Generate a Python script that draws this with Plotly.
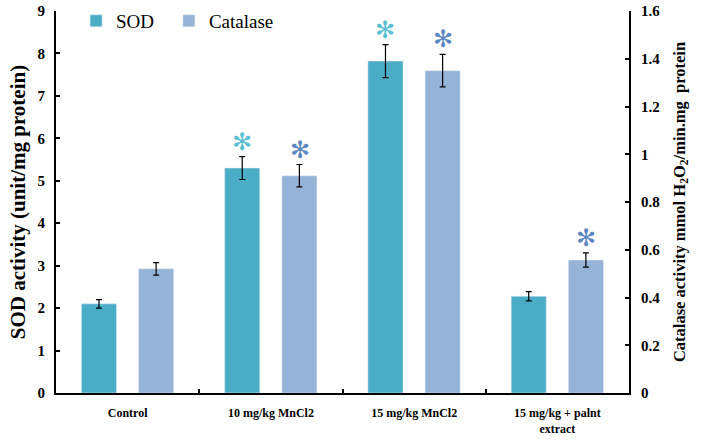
import plotly.graph_objects as go

categories = ["Control", "10 mg/kg MnCl2", "15 mg/kg MnCl2", "15 mg/kg + palnt<br>extract"]
sod_values = [2.10, 5.30, 7.82, 2.28]
sod_errors = [0.10, 0.27, 0.39, 0.11]
cat_values = [0.52, 0.91, 1.35, 0.557]
cat_errors = [0.026, 0.047, 0.068, 0.030]
sod_sig = [False, True, True, False]
cat_sig = [False, True, True, True]

SOD_COLOR = "#4BACC6"
CAT_COLOR = "#95B3D7"
FONT = "Liberation Serif, Times New Roman, serif"

fig = go.Figure()
fig.add_trace(go.Bar(
    x=categories, y=sod_values, name="SOD", marker_color=SOD_COLOR,
    width=0.245, offset=-0.3225,
    error_y=dict(type="data", array=sod_errors, color="black", thickness=1.2, width=3),
    yaxis="y", legend="legend",
))
fig.add_trace(go.Bar(
    x=categories, y=cat_values, name="Catalase", marker_color=CAT_COLOR,
    width=0.245, offset=0.0765,
    error_y=dict(type="data", array=cat_errors, color="black", thickness=1.2, width=3),
    yaxis="y2", legend="legend2",
))

annotations = []
for i, (v, e, s) in enumerate(zip(sod_values, sod_errors, sod_sig)):
    if s:
        annotations.append(dict(x=i - 0.2, y=v + e, xref="x", yref="y", text="✻",
                                showarrow=False, yanchor="middle", yshift=15,
                                font=dict(family="DejaVu Sans", size=24, color="#5BBFD3")))
for i, (v, e, s) in enumerate(zip(cat_values, cat_errors, cat_sig)):
    if s:
        annotations.append(dict(x=i + 0.2, y=v + e, xref="x", yref="y2", text="✻",
                                showarrow=False, yanchor="middle", yshift=15,
                                font=dict(family="DejaVu Sans", size=24, color="#5C87C2")))

legend_common = dict(orientation="h", y=0.974, xanchor="left", yanchor="middle",
                     font=dict(family=FONT, size=19, color="black"),
                     bgcolor="rgba(0,0,0,0)", itemwidth=30)

fig.update_layout(
    width=703, height=441,
    margin=dict(l=56, r=74, t=11, b=48, autoexpand=False),
    plot_bgcolor="white", paper_bgcolor="white",
    barmode="group",
    font=dict(family=FONT, color="black"),
    showlegend=True,
    legend=dict(x=0.035, **legend_common),
    legend2=dict(x=0.197, **legend_common),
    xaxis=dict(
        type="category", range=[-0.5, 3.5], automargin=False,
        showline=True, linecolor="black", linewidth=2,
        ticks="inside", tickson="boundaries", ticklen=4, tickcolor="black", tickwidth=2,
        tickfont=dict(family=FONT, size=12, color="black", weight="bold"),
        ticklabelstandoff=8,
        showgrid=False, zeroline=False,
    ),
    yaxis=dict(
        range=[0, 9], dtick=1, automargin=False,
        showline=True, linecolor="black", linewidth=2,
        ticks="inside", ticklen=4, tickcolor="black", tickwidth=2,
        tickfont=dict(family=FONT, size=15, color="black", weight="bold"),
        ticklabelstandoff=6, ticklabeloverflow="allow",
        title=dict(text="SOD activity (unit/mg protein)", standoff=6,
                   font=dict(family=FONT, size=21, color="black", weight="bold")),
        showgrid=False, zeroline=False,
    ),
    yaxis2=dict(
        range=[0, 1.6], tickvals=[0, 0.2, 0.4, 0.6, 0.8, 1.0, 1.2, 1.4, 1.6],
        ticktext=["0", "0.2", "0.4", "0.6", "0.8", "1", "1.2", "1.4", "1.6"],
        overlaying="y", side="right", automargin=False,
        showline=True, linecolor="black", linewidth=2,
        ticks="inside", ticklen=4, tickcolor="black", tickwidth=2,
        tickfont=dict(family=FONT, size=15, color="black", weight="bold"),
        ticklabelstandoff=7, ticklabeloverflow="allow",
        title=dict(text="Catalase activity mmol H<sub>2</sub>O<sub>2</sub>/min.mg  protein", standoff=14,
                   font=dict(family=FONT, size=16.5, color="black", weight="bold")),
        showgrid=False, zeroline=False,
    ),
    annotations=annotations,
)

fig.write_html("out.html", config={"displayModeBar": False},
               post_script="document.body.style.margin='0';")
